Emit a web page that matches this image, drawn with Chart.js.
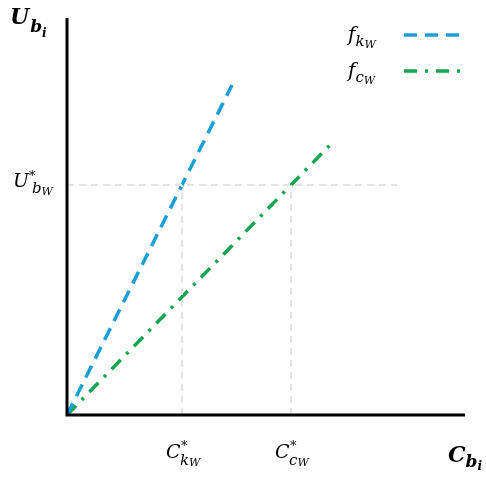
<!DOCTYPE html>
<html>
<head>
<meta charset="utf-8">
<script src="https://cdn.jsdelivr.net/npm/chart.js@4"></script>
<style>
  html, body { margin: 0; padding: 0; background: #fff; }
  #wrap { width: 486px; height: 477px; }
</style>
</head>
<body>
<div id="wrap"><canvas id="chart" width="486" height="477"></canvas></div>
<script>
// axis ranges (arbitrary units, no ticks shown)
const xRange = [0, 398];
const yRange = [0, 397];

// f_kW line (blue dashed) and f_cW line (green dash-dot)
const fkX = [0, 165];
const fkY = [0, 330];
const fcX = [0, 263];
const fcY = [0, 270];

// equilibrium guide values
const uStar = 230;
const cStarK = 115;
const cStarC = 224;
const guideRight = 330;

const blue = "#1a9ed8";
const green = "#15a552";
const guideGray = "#e3e3e3";
const blueDash = [13, 8];
const greenDash = [13, 8, 3, 8];

function pts(xs, ys) {
  return xs.map((x, i) => ({ x: x, y: ys[i] }));
}

// draws a label made of pieces: [text, font, dy, dx]
function drawMath(ctx, x, y, parts) {
  let cx = x;
  parts.forEach(p => {
    ctx.font = p[1];
    ctx.fillText(p[0], cx + (p[3] || 0), y + p[2]);
    cx += ctx.measureText(p[0]).width + (p[3] || 0);
  });
}

const annotations = {
  id: "annotations",
  afterDatasetsDraw(chart) {
    const ctx = chart.ctx;
    const area = chart.chartArea;
    const xs = chart.scales.x, ys = chart.scales.y;
    ctx.save();

    // axes
    ctx.strokeStyle = "#000";
    ctx.lineWidth = 3;
    ctx.setLineDash([]);
    ctx.beginPath();
    ctx.moveTo(area.left, area.top);
    ctx.lineTo(area.left, area.bottom);
    ctx.lineTo(area.right, area.bottom);
    ctx.stroke();

    ctx.fillStyle = "#000";
    ctx.textBaseline = "alphabetic";
    const serif = "'DejaVu Serif', serif";

    // axis titles
    drawMath(ctx, 10, 24, [
      ["U", "bold italic 22px " + serif, 0],
      ["b", "bold italic 17px " + serif, 8, 1],
      ["i", "bold italic 12px " + serif, 13]
    ]);
    drawMath(ctx, 448, 462, [
      ["C", "bold italic 22px " + serif, 0],
      ["b", "bold italic 17px " + serif, 5, 0],
      ["i", "bold italic 12px " + serif, 8]
    ]);

    // starred labels
    const uy = ys.getPixelForValue(uStar);
    drawMath(ctx, 13, uy + 2, [
      ["U", "italic 19px " + serif, 0],
      ["*", "italic 13px " + serif, -7, 0]
    ]);
    drawMath(ctx, 32, uy + 2, [
      ["b", "italic 15px " + serif, 6],
      ["W", "italic 11px " + serif, 8]
    ]);

    [[cStarK, "k"], [cStarC, "c"]].forEach(item => {
      const px = xs.getPixelForValue(item[0]);
      drawMath(ctx, px - 16, 458, [
        ["C", "italic 19px " + serif, 0]
      ]);
      drawMath(ctx, px - 1, 458, [
        ["*", "italic 13px " + serif, -8]
      ]);
      drawMath(ctx, px - 2, 458, [
        [item[1], "italic 15px " + serif, 7],
        ["W", "italic 11px " + serif, 8]
      ]);
    });

    // legend
    const legend = [["k", blue, blueDash, 35], ["c", green, greenDash, 71]];
    legend.forEach(l => {
      drawMath(ctx, 348, l[3] + 6, [
        ["f", "italic 20px " + serif, 0],
        [l[0], "italic 15px " + serif, 5, 0],
        ["W", "italic 11px " + serif, 7]
      ]);
      ctx.strokeStyle = l[1];
      ctx.lineWidth = 3.5;
      ctx.setLineDash(l[2]);
      ctx.beginPath();
      ctx.moveTo(404, l[3]);
      ctx.lineTo(464, l[3]);
      ctx.stroke();
    });
    ctx.restore();
  }
};

new Chart(document.getElementById("chart"), {
  type: "scatter",
  data: {
    datasets: [
      {
        data: pts([0, guideRight], [uStar, uStar]),
        showLine: true, borderColor: guideGray, borderWidth: 2,
        borderDash: [7, 5], pointRadius: 0
      },
      {
        data: pts([cStarK, cStarK], [0, uStar]),
        showLine: true, borderColor: guideGray, borderWidth: 2,
        borderDash: [7, 5], pointRadius: 0
      },
      {
        data: pts([cStarC, cStarC], [0, uStar]),
        showLine: true, borderColor: guideGray, borderWidth: 2,
        borderDash: [7, 5], pointRadius: 0
      },
      {
        data: pts(fkX, fkY),
        showLine: true, borderColor: blue, borderWidth: 3.5,
        borderDash: blueDash, pointRadius: 0
      },
      {
        data: pts(fcX, fcY),
        showLine: true, borderColor: green, borderWidth: 3.5,
        borderDash: greenDash, pointRadius: 0
      }
    ]
  },
  options: {
    responsive: false,
    animation: false,
    layout: { padding: { left: 67, right: 21, top: 18, bottom: 62 } },
    plugins: { legend: { display: false }, tooltip: { enabled: false } },
    scales: {
      x: { type: "linear", min: xRange[0], max: xRange[1], display: false },
      y: { type: "linear", min: yRange[0], max: yRange[1], display: false }
    }
  },
  plugins: [annotations]
});
</script>
</body>
</html>
